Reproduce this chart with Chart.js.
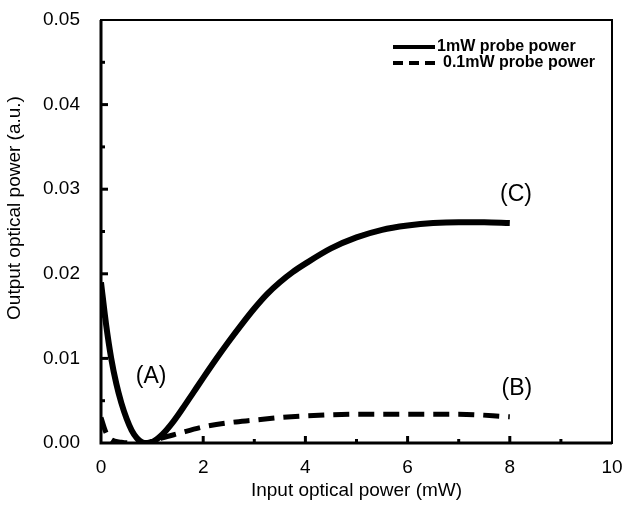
<!DOCTYPE html>
<html>
<head>
<meta charset="utf-8">
<script src="https://cdn.jsdelivr.net/npm/chart.js@4/dist/chart.umd.min.js"></script>
<style>
  html, body { margin: 0; padding: 0; background: #fff; }
  #wrap { width: 634px; height: 506px; }
</style>
</head>
<body>
<div id="wrap"><canvas id="myChart" width="634" height="506"></canvas></div>
<script>
// data
const probe1X = [0, 0.1, 0.2, 0.3, 0.4, 0.5, 0.6, 0.7, 0.8, 0.9, 1.0, 1.2, 1.4, 1.6, 1.8, 2.0, 2.25, 2.5, 2.75, 3.0, 3.25, 3.5, 3.75, 4, 4.5, 5, 5.5, 6, 6.5, 7, 7.5, 8];
const probe1Y = [0.0190, 0.0140, 0.0100, 0.0070, 0.0047, 0.0029, 0.0015, 0.0006, 0.0001, 0.0, 0.0001, 0.0010, 0.0024, 0.0041, 0.0059, 0.0077, 0.0099, 0.0120, 0.0140, 0.0159, 0.0176, 0.0190, 0.0202, 0.0212, 0.0230, 0.0243, 0.0252, 0.0257, 0.0260, 0.0261, 0.0261, 0.0260];

const probe01X = [0, 0.1, 0.2, 0.4, 0.6, 0.8, 1.0, 1.2, 1.5, 2.0, 2.5, 3, 3.5, 4, 5, 6, 7, 8];
const probe01Y = [0.0030, 0.0012, 0.0004, 0.0001, 0, 0, 0.0002, 0.0006, 0.0011, 0.0019, 0.0024, 0.0027, 0.0030, 0.0032, 0.0034, 0.0034, 0.0034, 0.0031];

const seriesNames = ['1mW probe power', '0.1mW probe power'];
const xTitle = 'Input optical power (mW)';
const yTitle = 'Output optical power (a.u.)';
const xTicks = [0, 2, 4, 6, 8, 10];
const yTicks = [0, 0.01, 0.02, 0.03, 0.04, 0.05];
const pointLabels = [
  { text: '(A)', x: 0.98, y: 0.0078 },
  { text: '(B)', x: 8.14, y: 0.0064 },
  { text: '(C)', x: 8.12, y: 0.0294 }
];

function toPoints(xs, ys) {
  return xs.map((x, i) => ({ x: x, y: ys[i] }));
}

const FONT = '"Liberation Sans", Arial, sans-serif';

// inside ticks, frame, legend, y title and the (A)(B)(C) labels
const decorations = {
  id: 'decorations',
  afterDatasetsDraw(chart) {
    const c = chart.ctx;
    const xs = chart.scales.x, ys = chart.scales.y;
    const a = chart.chartArea;
    c.save();
    c.strokeStyle = '#000';
    c.fillStyle = '#000';

    // frame
    c.lineWidth = 2;
    c.strokeRect(a.left, a.top, a.right - a.left, a.bottom - a.top);
    c.lineWidth = 3;
    c.beginPath();
    c.moveTo(a.left, a.top); c.lineTo(a.left, a.bottom); c.lineTo(a.right, a.bottom);
    c.stroke();

    // x ticks (inside)
    c.lineWidth = 3;
    for (let v = 1; v < 10; v++) {
      const px = xs.getPixelForValue(v);
      const len = v % 2 === 0 ? 7 : 4;
      c.beginPath(); c.moveTo(px, a.bottom); c.lineTo(px, a.bottom - len); c.stroke();
    }
    // y ticks (inside)
    for (let k = 1; k < 10; k++) {
      const py = ys.getPixelForValue(k * 0.005);
      const len = k % 2 === 0 ? 7 : 4;
      c.beginPath(); c.moveTo(a.left, py); c.lineTo(a.left + len, py); c.stroke();
    }

    // legend
    const lx = 393, ly1 = 47, ly2 = 63;
    c.lineWidth = 4;
    c.beginPath(); c.moveTo(lx, ly1); c.lineTo(lx + 42, ly1); c.stroke();
    c.setLineDash([10, 6]);
    c.beginPath(); c.moveTo(lx, ly2); c.lineTo(lx + 42, ly2); c.stroke();
    c.setLineDash([]);
    c.font = 'bold 16px ' + FONT;
    c.textBaseline = 'middle';
    c.textAlign = 'left';
    c.fillText(seriesNames[0], lx + 44, ly1);
    c.fillText(seriesNames[1], lx + 50, ly2);

    // annotations
    c.font = '23px ' + FONT;
    c.textAlign = 'center';
    pointLabels.forEach(p => {
      c.fillText(p.text, xs.getPixelForValue(p.x), ys.getPixelForValue(p.y));
    });

    // y axis title
    c.font = '19px ' + FONT;
    c.translate(15, 208);
    c.rotate(-Math.PI / 2);
    c.fillText(yTitle, 0, 0);
    c.restore();
  }
};

const ctx = document.getElementById('myChart');

new Chart(ctx, {
  type: 'line',
  data: {
    datasets: [{
      label: seriesNames[0],
      data: toPoints(probe1X, probe1Y),
      borderColor: '#000',
      borderWidth: 6,
      pointRadius: 0,
      cubicInterpolationMode: 'monotone',
      fill: false
    }, {
      label: seriesNames[1],
      data: toPoints(probe01X, probe01Y),
      borderColor: '#000',
      borderWidth: 5,
      borderDash: [16, 9],
      pointRadius: 0,
      cubicInterpolationMode: 'monotone',
      fill: false
    }]
  },
  options: {
    responsive: false,
    animation: false,
    layout: { padding: { left: 0, right: 22, top: 20, bottom: 0 } },
    plugins: {
      legend: { display: false },
      tooltip: { enabled: false }
    },
    scales: {
      x: {
        type: 'linear',
        min: 0,
        max: 10,
        grid: { display: false },
        border: { display: false },
        afterBuildTicks: s => { s.ticks = xTicks.map(v => ({ value: v })); },
        afterFit: s => { s.height = 63; s.paddingLeft = 0; s.paddingRight = 0; },
        ticks: {
          color: '#000',
          font: { family: FONT, size: 19 },
          padding: 5,
          maxRotation: 0,
          callback: v => String(v)
        },
        title: {
          display: true,
          text: xTitle,
          color: '#000',
          font: { family: FONT, size: 19 },
          padding: { top: 4 }
        }
      },
      y: {
        min: 0,
        max: 0.05,
        grid: { display: false },
        border: { display: false },
        afterBuildTicks: s => { s.ticks = yTicks.map(v => ({ value: v })); },
        afterFit: s => { s.width = 101; s.paddingTop = 0; s.paddingBottom = 0; },
        ticks: {
          color: '#000',
          font: { family: FONT, size: 19 },
          padding: 13,
          callback: v => v.toFixed(2)
        },
        title: { display: false }
      }
    }
  },
  plugins: [decorations]
});
</script>
</body>
</html>
